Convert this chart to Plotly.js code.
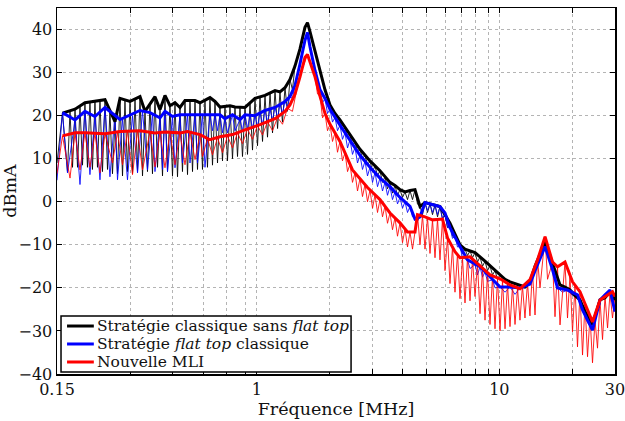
<!DOCTYPE html>
<html>
<head>
<meta charset="utf-8">
<script src="https://cdn.plot.ly/plotly-3.0.1.min.js"></script>
<style>html,body{margin:0;padding:0;background:#fff;}#chart{width:625px;height:421px;}</style>
</head>
<body>
<div id="chart"></div>
<script>
// ---------- Data (frequency in MHz, level in dBmA) ----------
const seriesNames = ["Stratégie classique sans <i>flat top</i>", "Stratégie <i>flat top</i> classique", "Nouvelle MLI"];
const seriesColors = ["#000000", "#0000ff", "#ff0000"];

// Black: classical strategy without flat top
const fBlackEnv = [0.158,0.178,0.1956,0.2366,0.2601,0.2728,0.300,0.3299,0.3459,0.3803,0.3989,0.4182,0.4385,0.4599,0.4822,0.5057,0.5561,0.5831,0.6411,0.6724,0.7050,0.7752,0.8130,0.8939,0.9831,1.081,1.189,1.246,1.307,1.370,1.437,1.507,1.580,1.618,1.657,1.738,1.823,1.911,2.004,2.101,2.203,2.423,2.664,2.930,3.221,3.542,3.714,3.895,4.084,4.283,4.491,4.710,4.939,5.431,5.694,5.971,6.262,6.566,6.886,7.221,7.940,8.731,9.601,10.56,11.07,12.17,12.76,13.38,14.04,15.44,16.19,16.97,17.80,18.66,19.57,20.52,21.52,22.57,24.23,26.02,27.29,28.61,30.0];
const vBlackEnv = [20.6,21.5,23,23.7,18.6,24,23.3,24.4,21,24.4,21.4,24.7,22.3,23,21.9,23.5,23.5,23,24.2,23.3,22,22.3,22,21.9,24,24.7,25.8,25.5,26.5,28.4,31.5,35.5,40.5,41.6,39.5,35,30,26,22.5,20.5,19,15.5,12.2,9.5,7.2,4.5,3.8,2.8,2.3,2.6,2.8,-1.1,-0.2,-0.8,-1.1,-3,-5,-7.5,-10,-11,-11.8,-13.8,-16,-18,-18.6,-19.5,-19.8,-18.6,-15,-9.3,-12.5,-16,-19.3,-19.8,-20.5,-21.8,-22.8,-25.5,-28.6,-22.8,-22.3,-20.9,-22.8];
const fBlackRaw = [0.150,0.158,0.1657,0.1697,0.1738,0.178,0.1823,0.1866,0.1911,0.1956,0.2003,0.2051,0.2100,0.2151,0.2203,0.2256,0.2310,0.2366,0.2423,0.2480,0.2540,0.2601,0.2664,0.2728,0.2794,0.2860,0.2929,0.300,0.3072,0.3146,0.3222,0.3299,0.3378,0.3459,0.3542,0.3627,0.3714,0.3803,0.3895,0.3989,0.4085,0.4182,0.4283,0.4385,0.4491,0.4599,0.4710,0.4822,0.4938,0.5057,0.5179,0.5303,0.5431,0.5561,0.5695,0.5831,0.5971,0.6114,0.6261,0.6411,0.6566,0.6724,0.6886,0.7050,0.7220,0.7393,0.7571,0.7752,0.7939,0.8130,0.8326,0.8525,0.8730,0.8939,0.9155,0.9374,0.9600,0.9831,1.0068,1.031,1.0559,1.081,1.107,1.134,1.161,1.189,1.218,1.246,1.276,1.307,1.338,1.370,1.403,1.437,1.507,1.580,1.618,1.657,1.738,1.823,1.911,2.004,2.052,2.101,2.152,2.203,2.256,2.311,2.367,2.423,2.481,2.541,2.602,2.664,2.728,2.794,2.861,2.930,3.001,3.072,3.146,3.221,3.299,3.378,3.459,3.542,3.627,3.714,3.804,3.895,3.989,4.084,4.183,4.283,4.386,4.491,4.599,4.710,4.824,4.939,5.058,5.179,5.304,5.431,5.562,5.694,5.831,5.971,6.115,6.262,6.413,6.566,6.724,6.886,7.052,7.221,7.395,7.572,7.755,7.940,8.131,8.326,8.527,8.731,8.942,9.156,9.377,9.601,9.833,10.07,10.56,11.07,11.61,12.17,12.76,13.38,14.04,14.72,15.44,16.19,16.97,17.80,18.66,19.57,20.52,21.52,22.57,23.66,24.23,25.41,26.02,27.29,28.61,29.30,30.0];
const vBlackRaw = [9,20.6,7,21,8,21.5,8,22,8.5,23,8,23.2,7.5,23.4,8,23.5,7,23.7,7.5,21,6.5,18.6,6.5,24,6,23.6,7,23.3,6.5,23.8,7,24.4,6,21,7,22.7,6.5,24.4,8,21.4,6,24.7,7,22.3,6,23,5.8,21.9,7,23.5,6.3,23.5,7,23.5,7.5,23,7.5,23.6,8,24.2,8.5,23.3,9,22,9.5,22.1,9.5,22.3,10,22,10.5,22,10.5,21.9,11,23,12,24,13,24.3,14,24.7,15,25.2,16,25.8,17,25.5,18.5,26.5,21,28.4,26,31.5,35.5,40.5,41.6,39.5,35,30,26,22.5,20.5,20.5,18.5,19,16.5,17.3,15,15.5,13,14,11.5,12.2,10,10.8,8.5,9.5,7,8.3,6,7.2,4.5,5.8,3,4.5,2,3.8,1.5,2.8,1,2.3,0.5,2.6,0.5,2.8,-0.5,-1.1,-3,-0.2,-2.5,-0.5,-3,-0.8,-3.5,-1.1,-4,-3,-6,-5,-8,-7.5,-9.5,-10,-12,-11,-12.5,-11.4,-13,-11.8,-14,-12.8,-15,-13.8,-16,-14.9,-17,-16,-18,-17,-18,-18.6,-19.2,-19.5,-19.8,-18.6,-15,-12,-9.3,-12.5,-16,-19.3,-19.8,-20.5,-21.8,-22.8,-25.5,-28,-28.6,-25,-22.8,-22.3,-20.9,-22,-22.8];

// Blue: classical flat-top strategy
const fBlueEnv = [0.158,0.178,0.1956,0.2151,0.2366,0.2728,0.3299,0.3627,0.3989,0.4182,0.4491,0.4822,0.5831,0.7050,0.7393,0.7939,0.8525,0.8939,0.9831,1.081,1.189,1.307,1.370,1.437,1.507,1.580,1.618,1.657,1.738,1.823,1.911,2.004,2.203,2.423,2.664,2.930,3.221,3.542,3.895,4.283,4.491,4.710,4.939,5.431,5.694,5.971,6.262,6.886,7.395,8.326,9.377,10.07,11.07,12.17,13.38,14.04,15.44,16.58,17.38,19.11,21.01,22.04,24.23,26.02,27.29,28.61,30.0];
const vBlueEnv = [20.7,19,21,19.8,21.9,19.1,21.2,20.7,19.5,21,19.8,20.2,20.2,20.2,19.3,20.2,19.1,20.2,20,21.2,21.9,23.3,24.4,27,32,37.5,39.3,36,30.5,26,24,21.5,17.8,14.4,10.8,8,5.5,3.5,1,-1.1,-4,-3.5,-0.2,-0.8,-1.1,-2.6,-6,-10.4,-13.5,-15.1,-18.1,-19.8,-19.8,-20,-19.1,-16,-10.4,-15.8,-20,-20.5,-21.6,-25.1,-29.8,-22.8,-21.6,-20.5,-25.5];
const fBlueRaw = [0.150,0.158,0.1657,0.178,0.1866,0.1956,0.2051,0.2151,0.2256,0.2366,0.2480,0.2601,0.2664,0.2794,0.2929,0.3072,0.3222,0.3378,0.3542,0.3714,0.3803,0.3989,0.4085,0.4182,0.4283,0.4491,0.4599,0.4822,0.4938,0.5179,0.5303,0.5561,0.5695,0.5971,0.6114,0.6411,0.6566,0.6724,0.6886,0.7050,0.7220,0.7393,0.7571,0.7939,0.8130,0.8525,0.8730,0.8939,0.9155,0.9374,0.9600,0.9831,1.0068,1.031,1.0559,1.081,1.107,1.134,1.161,1.189,1.218,1.246,1.276,1.307,1.338,1.370,1.403,1.437,1.507,1.580,1.618,1.657,1.738,1.823,1.867,1.911,1.957,2.004,2.052,2.101,2.152,2.203,2.256,2.311,2.367,2.423,2.481,2.541,2.602,2.664,2.728,2.794,2.861,2.930,3.001,3.072,3.146,3.221,3.299,3.378,3.459,3.542,3.627,3.714,3.804,3.895,3.989,4.084,4.183,4.283,4.386,4.491,4.599,4.710,4.824,4.939,5.058,5.179,5.304,5.431,5.562,5.694,5.831,5.971,6.115,6.262,6.413,6.566,6.724,6.886,7.052,7.395,7.572,7.940,8.131,8.326,8.527,8.731,8.942,9.377,9.601,10.07,10.56,11.07,11.61,12.17,12.76,13.38,14.04,15.44,16.58,17.38,18.23,19.11,20.04,21.01,22.04,23.11,24.23,25.41,26.02,27.29,28.61,30.0];
const vBlueRaw = [5,20.7,6.7,19,4,21,6.3,19.8,5.1,21.9,5.8,20.5,5.1,19.2,5.1,20,6.7,21.1,7.4,20.5,7,19.5,7.5,21,7,19.8,7.9,20.2,9,20.2,9,20.2,9,20.2,8,20.2,16.5,20.2,16.5,20.2,16,19.3,16,20.2,16.5,19.1,16.5,20.2,17,20.1,17,20,17.5,20.6,18,21.2,18.5,21.5,19,21.9,19.5,22.6,20.5,23.3,22,24.4,24,27,32,37.5,39.3,36,30.5,26,23,24,20.5,21.5,18.5,19.6,16.5,17.8,14.5,16,12.5,14.4,11,12.6,9,10.8,7.5,9.4,6,8,4.5,6.8,3.5,5.5,2.5,4.5,1.5,3.5,0.5,2.3,-0.5,1,-1.5,0,-2.5,-1.1,-3.5,-4,-4.5,-3.5,-2,-0.2,-2,-0.5,-2.5,-0.8,-3,-1.1,-4,-2.6,-6,-6,-8.5,-8,-10.5,-10.4,-13,-13.5,-15.5,-14.6,-17,-15.1,-17.5,-16.3,-18.5,-18.1,-20,-19.8,-21,-19.8,-21.5,-20,-20,-19.1,-16,-10.4,-15.8,-20,-21,-20.5,-21.8,-21.6,-25.1,-28,-29.8,-25,-22.8,-21.6,-20.5,-25.5];

// Red: new PWM (Nouvelle MLI)
const fRedEnv = [0.158,0.178,0.1956,0.2366,0.2728,0.3299,0.3803,0.4182,0.4822,0.5179,0.5831,0.6411,0.7050,0.7939,0.8939,1.031,1.189,1.307,1.370,1.437,1.507,1.580,1.618,1.657,1.738,1.823,1.911,2.004,2.203,2.481,2.861,3.221,3.542,3.895,4.183,4.491,4.599,4.939,5.304,5.831,6.115,6.566,6.886,7.572,8.326,9.156,10.07,11.07,12.17,13.38,14.38,15.44,16.58,17.38,18.66,20.04,21.52,23.11,24.23,26.02,27.95,29.30,30.0];
const vRedEnv = [15.3,16,16,15.8,16.3,16.5,16,16.2,16,16.3,15.6,14.4,15.1,15.6,16.7,17.9,19.3,21,22.5,25,29,33.5,34.2,32.5,29,24.5,20.5,18,14,7.4,3.3,0.5,-2.6,-4.9,-7,-7,-3,-3.5,-4.2,-4,-8.4,-11.6,-13,-12.8,-15,-17,-17.9,-19.3,-20.2,-18.1,-13.5,-8.1,-14,-15.1,-14,-18.6,-20.9,-25.1,-27.9,-22.8,-21.6,-20.9,-22];
const fRedRaw = [0.150,0.158,0.1697,0.178,0.1866,0.1956,0.2051,0.2151,0.2256,0.2366,0.2540,0.2664,0.2794,0.2929,0.3072,0.3222,0.3378,0.3627,0.3803,0.3989,0.4182,0.4385,0.4599,0.4822,0.5057,0.5303,0.5561,0.5831,0.5971,0.6261,0.6566,0.6886,0.7220,0.7571,0.7939,0.8326,0.8730,0.9155,0.9600,1.0068,1.0559,1.107,1.161,1.218,1.276,1.338,1.403,1.472,1.543,1.618,1.657,1.738,1.780,1.823,1.867,1.911,1.957,2.004,2.052,2.101,2.152,2.203,2.256,2.311,2.367,2.423,2.481,2.541,2.602,2.664,2.728,2.794,2.861,2.930,3.001,3.072,3.146,3.221,3.299,3.378,3.459,3.542,3.627,3.714,3.804,3.895,3.989,4.084,4.183,4.283,4.386,4.491,4.599,4.710,4.824,4.939,5.058,5.179,5.304,5.431,5.562,5.694,5.831,5.971,6.115,6.262,6.413,6.566,6.724,6.886,7.052,7.221,7.395,7.572,7.755,7.940,8.131,8.326,8.527,8.731,8.942,9.156,9.377,9.601,9.833,10.07,10.31,10.56,10.81,11.07,11.34,11.61,11.89,12.17,12.46,12.76,13.07,13.38,13.70,14.04,14.38,14.72,15.44,15.81,16.58,16.97,17.38,17.80,18.66,19.11,19.57,20.04,20.52,21.01,21.52,22.04,22.57,23.11,23.66,24.23,24.81,25.41,26.02,26.65,27.29,27.95,28.61,29.30,30.0];
const vRedRaw = [6.5,15.3,5.5,16,7.4,16,8,15.9,6.7,15.8,9,16.1,8.6,16.3,6.3,16.4,7.4,16.2,8.1,16.1,7.9,16.1,8.6,16,8.6,16.2,9.8,15.6,10.5,14.7,10.9,14.9,11.4,15.3,12.5,16,13.5,16.9,14.5,17.7,15.5,18.6,16.5,19.6,18,21.7,21,27,31,34.2,32.5,29,25,24.5,19.5,20.5,16.5,18,14,16,11.5,14,9.5,11.4,7,8.7,4.5,6.7,2.5,5.4,1.2,4,0,2.7,-1.5,1.6,-2.5,0.5,-3.5,-1,-5,-2.6,-6.5,-3.7,-8,-4.9,-9.5,-6.3,-10.5,-7,-11,-7,-3,-10,-3.2,-11,-3.6,-12,-4.2,-13,-4,-13.5,-4,-16,-8.4,-19,-10.5,-21,-12,-22.5,-13,-23.5,-12.9,-23,-13.3,-22,-14.5,-26,-15.5,-27.5,-16.5,-28.5,-17.2,-29.5,-17.7,-30,-18.2,-29.5,-19,-29,-19.5,-28.5,-20,-27.5,-19.5,-27,-18.8,-26.5,-16,-26.3,-13.5,-20,-8.1,-18,-14,-26.7,-15.1,-28.6,-14,-27,-17,-30.2,-19.5,-33.7,-20.9,-35.6,-23.5,-36,-26.5,-37.4,-27.5,-34,-22.8,-32,-22,-29.3,-21.2,-27,-22];

// Axis ticks
const xTickVals = [0.15,0.3,0.45,0.6,0.75,0.9,1,2,3,4,5,6,7,8,9,10,20,30];
const xTickText = ["0.15","","","","","","1","","","","","","","","","10","","30"];
const yTickVals = [-40,-30,-20,-10,0,10,20,30,40];

// ---------- Plot ----------
const serif = "DejaVu Serif";
function thin(f, v, color) {
  return {x: f, y: v, type: "scatter", mode: "lines", showlegend: false, hoverinfo: "skip",
          line: {color: color, width: 1}, opacity: 0.85};
}
function thick(f, v, color, name) {
  return {x: f, y: v, type: "scatter", mode: "lines", name: name, showlegend: false,
          line: {color: color, width: 3}};
}
const traces = [
  thin(fBlackRaw, vBlackRaw, seriesColors[0]),
  thin(fBlueRaw, vBlueRaw, seriesColors[1]),
  thin(fRedRaw, vRedRaw, seriesColors[2]),
  thick(fBlackEnv, vBlackEnv, seriesColors[0], seriesNames[0]),
  thick(fBlueEnv, vBlueEnv, seriesColors[1], seriesNames[1]),
  thick(fRedEnv, vRedEnv, seriesColors[2], seriesNames[2])
];

// Legend box drawn in axis-domain coordinates
const legBox = {x0: 0.0072, x1: 0.527, y0: 0.0055, y1: 0.1585};
const legRows = [0.1311, 0.0820, 0.0328];
const shapes = [{type: "rect", xref: "x domain", yref: "y domain", x0: legBox.x0, x1: legBox.x1, y0: legBox.y0, y1: legBox.y1,
                 line: {color: "#000", width: 1.5}, fillcolor: "#fff", layer: "above"}];
const annotations = [];
seriesNames.forEach((name, i) => {
  shapes.push({type: "line", xref: "x domain", yref: "y domain", x0: 0.018, x1: 0.066, y0: legRows[i], y1: legRows[i],
               line: {color: seriesColors[i], width: 3}, layer: "above"});
  annotations.push({xref: "x domain", yref: "y domain", x: 0.069, y: legRows[i], xanchor: "left", yanchor: "middle",
                    text: name, showarrow: false, borderpad: 0,
                    font: {family: serif, size: 15.5, color: "#111"}});
});

const axisCommon = {
  showline: true, linecolor: "#000", linewidth: 1.5, mirror: "ticks",
  ticks: "inside", ticklen: 5, tickwidth: 1, tickcolor: "#000",
  showgrid: true, gridcolor: "#b4b4b4", gridwidth: 1, griddash: "dot",
  zeroline: false, tickfont: {family: serif, size: 16, color: "#111"},
  ticklabeloverflow: "allow"
};

const layout = {
  width: 625, height: 421,
  margin: {l: 57, r: 10, t: 8, b: 47},
  paper_bgcolor: "#fff", plot_bgcolor: "#fff",
  font: {family: serif, color: "#111"},
  xaxis: Object.assign({}, axisCommon, {
    type: "log", range: [Math.log10(0.15), Math.log10(30)],
    tickmode: "array", tickvals: xTickVals, ticktext: xTickText,
    title: {text: "Fréquence [MHz]", font: {family: serif, size: 17.5}, standoff: 2}
  }),
  yaxis: Object.assign({}, axisCommon, {
    range: [-40, 45], tickmode: "array", tickvals: yTickVals,
    title: {text: "dBmA", font: {family: serif, size: 17.5}, standoff: 6}
  }),
  shapes: shapes,
  annotations: annotations,
  showlegend: false
};

Plotly.newPlot("chart", traces, layout, {displayModeBar: false, staticPlot: true});
</script>
</body>
</html>
